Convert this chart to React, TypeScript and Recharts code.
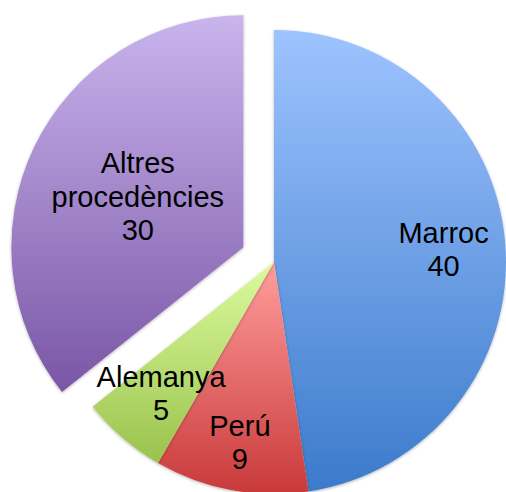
import { PieChart, Pie, Cell } from 'recharts';

const names = ['Marroc', 'Perú', 'Alemanya', 'Altres procedències'];
const values = [40, 9, 5, 30];
const gradTop = ['#9ec3ff', '#ff9e9c', '#dcfb9e', '#c9b4ed'];
const gradBottom = ['#3b7bcb', '#c9393a', '#9ac24c', '#7a56a6'];

// how far each label sits from the centre (fraction of the radius)
const labelRadius = [0.733, 0.79, 0.746, 0.505];
const exploded = 3; // index of the pulled-out slice
const EXPLODE = 34;

const CX = 274;
const CY = 262;
const R = 232;
const RAD = Math.PI / 180;
const FONT = 29;
const LINE = 33.5;

const data = names.map((name, i) => ({ name, value: values[i] }));

// mid angle of the exploded slice, same convention as the Pie (start 90, clockwise)
const total = values.reduce((a, b) => a + b, 0);
const before = values.slice(0, exploded).reduce((a, b) => a + b, 0);
const explodeMid = 90 - (360 * (before + values[exploded] / 2)) / total;
const exDx = EXPLODE * Math.cos(explodeMid * RAD);
const exDy = -EXPLODE * Math.sin(explodeMid * RAD);

function renderLabel(props: any) {
  const { cx, cy, midAngle, outerRadius, index, name, value } = props;
  const r = outerRadius * labelRadius[index];
  let x = cx + r * Math.cos(-midAngle * RAD);
  let y = cy + r * Math.sin(-midAngle * RAD);
  if (index === exploded) {
    x += exDx;
    y += exDy;
  }
  const lines = [...String(name).split(' '), String(value)];
  const n = lines.length;
  return (
    <text
      key={`lbl-${index}`}
      x={x}
      y={y}
      textAnchor="middle"
      fontSize={FONT}
      fontFamily="'Liberation Sans', Arial, sans-serif"
      fill="#000"
    >
      {lines.map((t, i) => (
        <tspan key={i} x={x} y={y + (i - (n - 1) / 2) * LINE + FONT * 0.36}>
          {t}
        </tspan>
      ))}
    </text>
  );
}

export default function App() {
  return (
    <div style={{ position: 'absolute', left: 0, top: 0, width: 506, height: 492, background: '#fff' }}>
      <PieChart width={506} height={492} margin={{ top: 0, right: 0, bottom: 0, left: 0 }}>
        <defs>
          {names.map((_, i) => (
            <linearGradient key={i} id={`g${i}`} x1="0" y1="0" x2="0" y2="1">
              <stop offset="0%" stopColor={gradTop[i]} />
              <stop offset="100%" stopColor={gradBottom[i]} />
            </linearGradient>
          ))}
          <filter id="shadow" x="-10%" y="-10%" width="120%" height="120%">
            <feDropShadow dx="0" dy="1" stdDeviation="1.5" floodColor="#000" floodOpacity="0.3" />
          </filter>
        </defs>
        {/* pulled-out slice */}
        <Pie
          data={data}
          dataKey="value"
          nameKey="name"
          cx={CX + exDx}
          cy={CY + exDy}
          outerRadius={R}
          startAngle={90}
          endAngle={-270}
          stroke="none"
          label={false}
          labelLine={false}
          isAnimationActive={false}
        >
          {data.map((_, i) => (
            <Cell
              key={i}
              fill={i === exploded ? `url(#g${i})` : 'transparent'}
              filter={i === exploded ? 'url(#shadow)' : undefined}
            />
          ))}
        </Pie>
        {/* remaining slices + labels */}
        <Pie
          data={data}
          dataKey="value"
          nameKey="name"
          cx={CX}
          cy={CY}
          outerRadius={R}
          startAngle={90}
          endAngle={-270}
          stroke="none"
          label={renderLabel}
          labelLine={false}
          isAnimationActive={false}
        >
          {data.map((_, i) => (
            <Cell
              key={i}
              fill={i === exploded ? 'transparent' : `url(#g${i})`}
              filter={i === exploded ? undefined : 'url(#shadow)'}
            />
          ))}
        </Pie>
      </PieChart>
    </div>
  );
}
